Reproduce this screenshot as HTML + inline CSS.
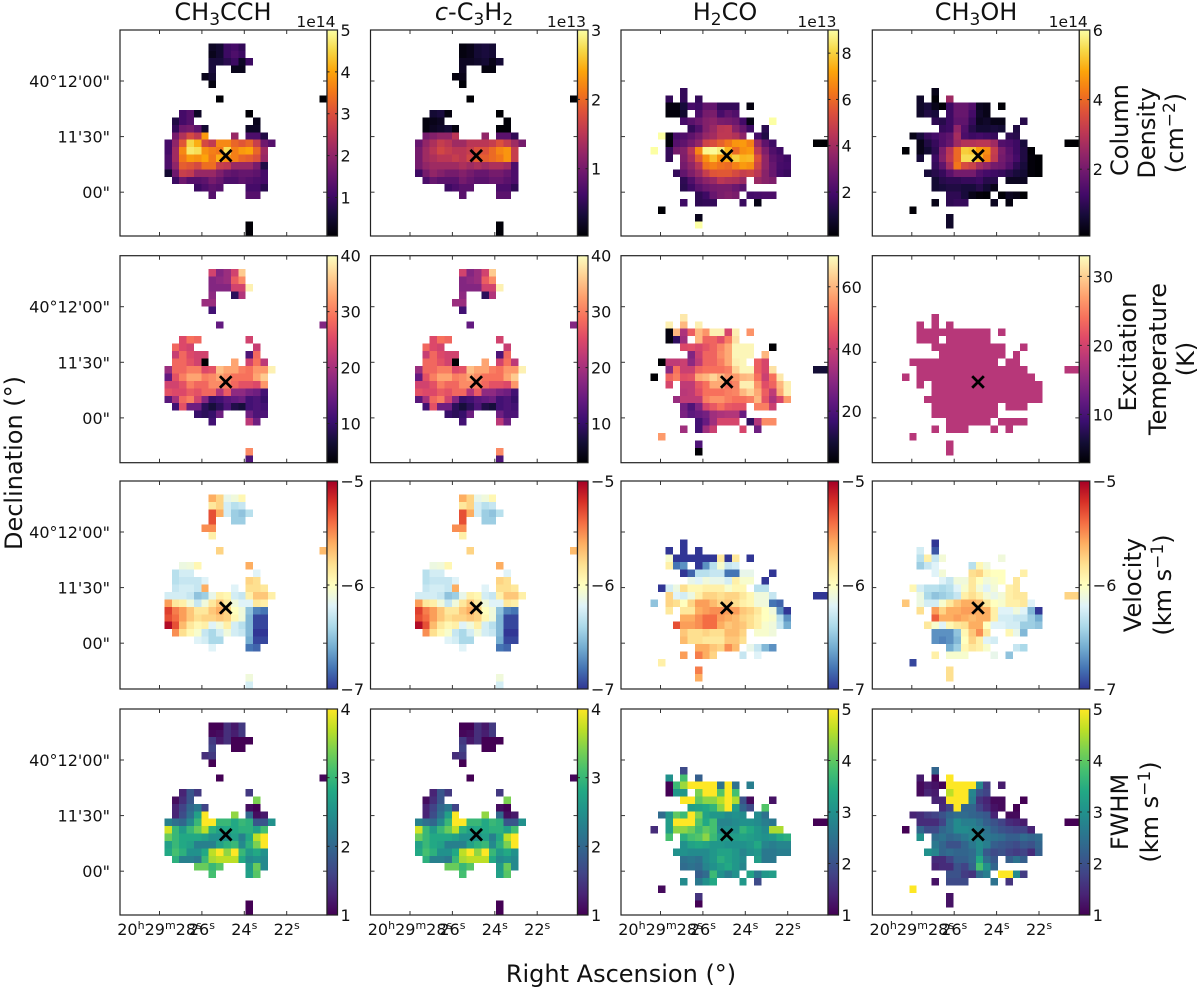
<!DOCTYPE html>
<html lang="en">
<head>
<meta charset="utf-8">
<title>Molecular line maps</title>
<style>
html,body{margin:0;padding:0;background:#fff;}
svg{display:block;filter:blur(0.35px);}
text{font-family:"DejaVu Sans","Liberation Sans",sans-serif;fill:#111;}
</style>
</head>
<body>
<svg id="fig" xmlns="http://www.w3.org/2000/svg" width="1200" height="990" viewBox="0 0 1200 990">
<rect width="1200" height="990" fill="#fff"/>
<g font-size="24" text-anchor="middle">
<text x="223" y="20">CH<tspan font-size="17" dy="5">3</tspan><tspan dy="-5">CCH</tspan></text>
<text x="474" y="20"><tspan font-style="italic">c</tspan>-C<tspan font-size="17" dy="5">3</tspan><tspan dy="-5">H</tspan><tspan font-size="17" dy="5">2</tspan></text>
<text x="725" y="20">H<tspan font-size="17" dy="5">2</tspan><tspan dy="-5">CO</tspan></text>
<text x="976" y="20">CH<tspan font-size="17" dy="5">3</tspan><tspan dy="-5">OH</tspan></text>
<text x="621" y="982">Right Ascension (°)</text>
<text transform="translate(22,463) rotate(-90)">Declination (°)</text>
<text transform="translate(1128,130) rotate(-90)">Column</text>
<text transform="translate(1155,133) rotate(-90)">Density</text>
<text transform="translate(1183,133) rotate(-90)">(cm<tspan font-size="17" dy="-8">−2</tspan><tspan dy="8">)</tspan></text>
<text transform="translate(1136,352) rotate(-90)">Excitation</text>
<text transform="translate(1166,359) rotate(-90)">Temperature</text>
<text transform="translate(1194,359) rotate(-90)">(K)</text>
<text transform="translate(1141,585) rotate(-90)">Velocity</text>
<text transform="translate(1171,585) rotate(-90)">(km s<tspan font-size="17" dy="-8">−1</tspan><tspan dy="8">)</tspan></text>
<text transform="translate(1128,812) rotate(-90)">FWHM</text>
<text transform="translate(1158,812) rotate(-90)">(km s<tspan font-size="17" dy="-8">−1</tspan><tspan dy="8">)</tspan></text>
</g>
</svg>
<script>
// ---- Heatmap values: rows of 28 columns; holes are blank pixels ----
const columnDensityCh3cch = [
[],[],
[,,,,,,,,,,,,.4,.5,1,1.1,.9],
[,,,,,,,,,,,,.3,.5,1,1.2,1],
[,,,,,,,,,,,,.6,.6,.8,1,.4,1],
[,,,,,,,,,,,,.6,,,.3,.3],
[,,,,,,,,,,,.3,.5],
[,,,,,,,,,,,,.2],
[],
[,,,,,,,,,,,,,.05,,,,,,,,,,,,,,.05],
[],
[,,,,,,,,1.1,1.3,.4,,,,,,,.1],
[,,,,,,,.7,1.1,1.3,,,,,,,,,.3],
[,,,,,,,.9,1.6,1.7,1.4,.5,,,,,,.4,.4],
[,,,,,,,1.7,2.4,2.9,2.6,3.9,,,,2.1,,1.2,1.2,.7],
[,,,,,,1.1,2,3.1,4.5,4.1,2.9,2.6,3.7,3.7,3.3,3.1,3.3,2.7,1.6,1.3],
[,,,,,,1.1,2.2,3.7,4.7,4.6,3.8,3.6,3.5,4.6,3.6,3.9,4,3.3,2.2],
[,,,,,,1.2,2.2,3.5,3.9,3.8,4,3.5,4.1,3.8,3.6,3.3,3.2,3,2.1],
[,,,,,,1.2,2,3.2,3.1,2.9,3.4,3.4,2.7,2.6,2.1,2.1,2.1,1.7,.7],
[,,,,,,.5,1.6,2.7,2.6,2.1,2.1,2.1,1.8,1.5,1.4,1.5,1.5,1.4,1.1],
[,,,,,,,1,1.6,1.3,1.3,1.4,1.7,1.5,1.2,1.2,1.4,1.3,1.2,1.1],
[,,,,,,,,,,1,1.2,1.4,1.3,,,,1.1,1.1,.8],
[,,,,,,,,,,,,1.3,,,,,1.3,1.3],
[],[],[],
[,,,,,,,,,,,,,,,,,.1],
[,,,,,,,,,,,,,,,,,.1]
];
const columnDensityC3h2 = [
[],[],
[,,,,,,,,,,,,.1,.15,.3,.35,.3],
[,,,,,,,,,,,,.1,.15,.3,.35,.3],
[,,,,,,,,,,,,.2,.2,.25,.3,.15,.3],
[,,,,,,,,,,,,.2,,,.1,.1],
[,,,,,,,,,,,.1,.15],
[,,,,,,,,,,,,.05],
[],
[,,,,,,,,,,,,,.03,,,,,,,,,,,,,,.03],
[],
[,,,,,,,,.3,.35,.1,,,,,,,.03],
[,,,,,,,.1,.15,.2,,,,,,,,,.05],
[,,,,,,,.1,.2,.25,.3,.1,,,,,,.05,.05],
[,,,,,,,1,1.1,1.2,1.2,1.5,,,,1.2,,.8,.8,.5],
[,,,,,,.9,1.2,1.4,1.6,1.5,1.3,1.3,1.5,1.5,1.5,1.6,1.8,1.6,1.3,1],
[,,,,,,1,1.3,1.5,1.7,1.6,1.5,1.5,1.6,1.8,1.8,2,2.2,2.3,1.6],
[,,,,,,1,1.3,1.4,1.5,1.5,1.6,1.5,1.7,1.9,1.9,2,2.1,2.3,1.6],
[,,,,,,1,1.2,1.3,1.3,1.3,1.3,1.4,1.3,1.4,1.3,1.4,1.4,1.3,.7],
[,,,,,,.6,1,1.2,1.1,1,1,1.1,1,.9,.9,1,1,.9,.7],
[,,,,,,,.7,.9,.8,.8,.8,1,.9,.8,.8,.9,.9,.8,.7],
[,,,,,,,,,,.6,.7,.8,.8,,,,.7,.7,.5],
[,,,,,,,,,,,,.8,,,,,.8,.8],
[],[],[],
[,,,,,,,,,,,,,,,,,.05],
[,,,,,,,,,,,,,,,,,.05]
];
const columnDensityH2co = [
[],[],[],[],[],[],[],[],
[,,,,,,,,1.6],
[,,,,,,1.6,,1.6,,1.6],
[,,,,,,.3,.3,1,2,1.8,2.6,2.6,1.6,1.6,1.6,,.3],
[,,,,,,.2,.2,.8,,2.1,3,3.1,2,2.5,2.2],
[,,,,,,,,2,2.4,2.8,3.3,3.5,3.1,3,2.8,1.9,.4,,,9],
[,,,,,,,,,1.6,2.2,3.3,3.8,4.5,4.6,3.4,2.7,1.8,,1.4],
[,,,,,9,.3,2,2.2,2.5,3,3.7,4,4.6,4.6,4.3,3.5,,1.9,1.2],
[,,,,,,.2,2.3,2.5,3,3.6,5,5.3,5.8,6.3,6.9,7,6.5,3.8,2.5,1.8,,,,,,.1,.1],
[,,,,9,,1.6,3,3.3,4.5,6.6,8.8,8.9,8.6,7.5,6,6.8,7,4.6,3.2,2.2,1.8],
[,,,,,,1.6,,3.2,4.1,5.6,6.8,7.7,6.8,7.4,8,7.5,7.6,5.4,3.6,2.5,2.1,1.8],
[,,,,,,,,3,3.6,4.5,6.2,6.5,6.2,6,6.5,7,6.8,5,3.6,2.7,2,1.9],
[,,,,,,,1.6,2.6,3.2,3.8,4.8,5.5,5.6,5.6,5.2,4.8,5,4.5,3.4,2.7,1.9,1.7],
[,,,,,,,,1.5,2.2,3,3.5,3.8,4.5,4.3,4.2,3.8,,3.8,3.4,3.2],
[,,,,,,,,1.4,1.8,2.4,2.8,3,3.1,3.1,2.8,2.4],
[,,,,,,,,,,1.5,1.8,2.7,3.1,3.3,3.1,,1.9,2,2.1,2.1],
[,,,,,,,,1.8,,1.5,1.6,1.6,,,,1.7,,.4],
[,,,,,.1],
[,,,,,,,,,,.5],
[,,,,,,,,,,9]
];
const columnDensityCh3oh = [
[],[],[],[],[],[],[],[],
[,,,,,,,,.3],
[,,,,,,.5,,.1,,2.6],
[,,,,,,.5,.7,.3,.1,1.2,1.8,1.8,1.5,.4,.3,,.1],
[,,,,,,.5,.8,.7,,1.2,1.8,1.8,1.3,.5,.3],
[,,,,,,,,1,.9,1.2,1.7,1.7,1.1,.4,.5,.3,.3,,,.9],
[,,,,,,,,,1.1,1.2,2.4,1.5,.9,.6,.6,.7,.6,,.8],
[,,,,,.3,.7,1.1,1.3,1.5,1.7,2.7,1.4,1.2,1.3,1.2,1.1,,1,.9],
[,,,,,,.3,.8,1.1,1.5,1.8,2.6,2.9,2.9,3,3,2.6,1.5,1.4,1.2,.7,,,,,,.05,.05],
[,,,,.05,,.3,.6,1,2.1,3,4,5.3,5.2,4.7,4.5,3.2,2.1,1.6,1.2,.8,.1],
[,,,,,,.7,,1.2,2.2,3.1,4,5.5,5.5,5,4.3,3.1,2,1.7,1.3,.8,.15,.05],
[,,,,,,,,1.1,1.7,2.7,4.2,3.5,3.3,2.7,2.4,2,1.9,1.5,1,.7,.15,.05],
[,,,,,,,.7,.9,1.1,1.6,2,2,2,1.5,1.3,1.2,1.1,.9,.7,.6,.15,.05],
[,,,,,,,,.6,.9,1,1,1.1,1.1,1.2,.9,.9,,.4,.4,.4],
[,,,,,,,,.6,.7,.8,.8,.7,.7,.9,.6,.3],
[,,,,,,,,,,1,1,.7,.3,.15,.1,,.1,.4,.3,.05],
[,,,,,,,,.3,,1,1.1,1.1,,,,.4,,.2],
[,,,,,.1],
[,,,,,,,,,,.5],
[,,,,,,,,,,.5]
];
const excitationCh3cch = [
[],[],
[,,,,,,,,,,,,24,17,19,24,36],
[,,,,,,,,,,,,17,18,19,27,31],
[,,,,,,,,,,,,17,17,17,24,24,39],
[,,,,,,,,,,,,18,,,9,21],
[,,,,,,,,,,,19,19],
[,,,,,,,,,,,,11],
[],
[,,,,,,,,,,,,,14,,,,,,,,,,,,,,17],
[],
[,,,,,,,,25,29,28,,,,,,,24],
[,,,,,,,28,25,24,,,,,,,,,23],
[,,,,,,,23,28,25,24,24,,,,,,12,28],
[,,,,,,,28,28,26,24,3,,,,33,,24,29,22],
[,,,,,,19,28,28,30,30,25,26,35,33,33,30,29,32,32,39],
[,,,,,,14,26,30,33,33,30,31,33,31,29,29,29,33,36],
[,,,,,,24,24,26,30,28,28,31,31,30,28,26,26,25,32],
[,,,,,,26,25,25,27,26,28,28,21,27,18,18,16,15,11],
[,,,,,,13,20,28,30,24,17,10,11,13,14,15,11,12,10],
[,,,,,,,11,26,15,15,9,7,9,12,8,7,11,12,11],
[,,,,,,,,,,10,9,10,15,,,,15,12,12],
[,,,,,,,,,,,,11,,,,,22,15],
[],[],[],
[,,,,,,,,,,,,,,,,,31],
[,,,,,,,,,,,,,,,,,12]
];
const excitationH2co = [
[],[],[],[],[],[],[],[],
[,,,,,,,,67],
[,,,,,,68,,60,,68],
[,,,,,,5,60,35,47,60,55,68,68,42,68,,55],
[,,,,,,5,15,33,,60,48,48,44,52,66],
[,,,,,,,,43,44,42,45,48,53,58,69,69,69,,,3],
[,,,,,,,,,28,40,48,48,54,58,69,69,69,,60],
[,,,,,3,38,38,40,30,38,48,48,52,58,68,69,,47,42],
[,,,,,,30,50,40,40,48,50,50,50,52,64,69,69,47,42,66,,,,,,10,10],
[,,,,3,,48,52,44,45,58,60,64,60,55,56,60,61,50,40,50,67],
[,,,,,,42,,38,38,46,50,58,58,50,53,68,68,55,44,48,60,68],
[,,,,,,,,37,38,44,50,50,50,52,53,60,64,58,47,38,58,68],
[,,,,,,,32,38,38,38,52,55,55,52,50,50,52,60,45,35,42,56],
[,,,,,,,,26,20,28,42,46,50,46,45,45,,52,52,40],
[,,,,,,,,27,22,24,26,33,35,36,36,24],
[,,,,,,,,,,18,24,33,42,42,42,,15,36,54,54],
[,,,,,,,,33,,18,33,40,,,,42,,25],
[,,,,,56],
[,,,,,,,,,,20],
[,,,,,,,,,,3]
];
const excitationCh3oh = [
[],[],[],[],[],[],[],[],
[,,,,,,,,18],
[,,,,,,18,,18,,18],
[,,,,,,18,18,18,18,18,18,18,18,18,18,,18],
[,,,,,,18,18,18,,18,18,18,18,18,18],
[,,,,,,,,18,18,18,18,18,18,18,18,18,18,,,18],
[,,,,,,,,,18,18,18,18,18,18,18,18,18,,18],
[,,,,,18,18,18,18,18,18,18,18,18,18,18,18,,18,18],
[,,,,,,18,18,18,18,18,18,18,18,18,18,18,18,18,18,18,,,,,,18,18],
[,,,,18,,18,18,18,18,18,18,18,18,18,18,18,18,18,18,18,18],
[,,,,,,18,,18,18,18,18,18,18,18,18,18,18,18,18,18,18,18],
[,,,,,,,,18,18,18,18,18,18,18,18,18,18,18,18,18,18,18],
[,,,,,,,18,18,18,18,18,18,18,18,18,18,18,18,18,18,18,18],
[,,,,,,,,18,18,18,18,18,18,18,18,18,,18,18,18],
[,,,,,,,,18,18,18,18,18,18,18,18,18],
[,,,,,,,,,,18,18,18,18,18,18,,18,18,18,18],
[,,,,,,,,18,,18,18,18,,,,18,,18],
[,,,,,18],
[,,,,,,,,,,18],
[,,,,,,,,,,18]
];
const velocityCh3cch = [
[],[],
[,,,,,,,,,,,,-5.6,-5.75,-6.15,-6.1,-5.95],
[,,,,,,,,,,,,-5.85,-5.75,-6.25,-6.35,-6.3],
[,,,,,,,,,,,,-5.3,-5.6,-6.25,-6.45,-6.5,-6.35],
[,,,,,,,,,,,,-5.3,,,-6.45,-6.45],
[,,,,,,,,,,,-5.5,-5.5],
[,,,,,,,,,,,,-5.9],
[],
[,,,,,,,,,,,,,-5.75,,,,,,,,,,,,,,-5.65],
[],
[,,,,,,,,-6.12,-6.1,-5.95,,,,,,,-5.6],
[,,,,,,,-6.35,-6.25,-6.25,,,,,,,,,-6.2],
[,,,,,,,-6.35,-6.3,-6.3,-6.3,-6.2,,,,,,-5.75,-5.8],
[,,,,,,,-6.3,-6.25,-6.25,-6.3,-5.6,,,,-6.2,,-5.8,-5.8,-5.85],
[,,,,,,-6.25,-6.25,-6.25,-6.3,-6.5,-6.45,-6.15,-5.9,-5.95,-6.25,-6.3,-5.9,-5.7,-5.7,-5.9],
[,,,,,,-5.55,-5.85,-5.9,-6.1,-6.3,-6.1,-5.85,-5.7,-5.85,-6.1,-6.2,-6.2,-5.85,-5.9],
[,,,,,,-5.25,-5.45,-5.55,-5.7,-5.85,-5.85,-5.7,-5.6,-5.75,-6,-6.1,-6.5,-6.75,-6.8],
[,,,,,,-5.3,-5.4,-5.55,-5.7,-5.8,-5.75,-5.75,-5.7,-5.75,-5.95,-6.1,-6.55,-6.95,-6.95],
[,,,,,,-5.05,-5.3,-5.65,-5.85,-5.95,-5.9,-6.2,-6.1,-5.9,-6.25,-6.35,-6.55,-6.95,-6.95],
[,,,,,,,-5.5,-5.8,-5.95,-6.05,-6.3,-6.4,-6.25,-6.1,-6.25,-6.3,-6.55,-7,-7],
[,,,,,,,,,,-6.2,-6.25,-6.4,-6.4,,,,-6.6,-6.95,-6.95],
[,,,,,,,,,,,,-6.2,,,,,-6.8,-6.85],
[],[],[],
[,,,,,,,,,,,,,,,,,-6.1],
[,,,,,,,,,,,,,,,,,-6.25]
];
const velocityH2co = [
[],[],[],[],[],[],[],[],
[,,,,,,,,-7],
[,,,,,,-7,,-7,,-7],
[,,,,,,-6.05,-7,-7,-7,-7,-7,-7,-5.85,-7,-5.85,,-7],
[,,,,,,-5.9,-6.8,-6.7,,-7,-6.7,-6.35,-6.05,-6.3,-6.25],
[,,,,,,,,-7,-6.85,-6.35,-6.35,-6.3,-6.3,-6.8,-6.8,-6.15,-6.15,,,-7],
[,,,,,,,,,-6.15,-6.2,-6.1,-6.15,-6.15,-6.25,-5.9,-6.05,-6.05,,-7],
[,,,,,-7,-6.25,-6.12,-5.8,-5.95,-5.95,-5.9,-5.9,-5.9,-6.05,-5.95,-5.95,,-6.35,-6.35],
[,,,,,,-5.75,-6.2,-6.25,-6.12,-5.9,-5.75,-5.75,-5.8,-5.75,-5.75,-5.85,-5.95,-6.1,-6.1,-6.3,,,,,,-7,-7],
[,,,,-6.5,,-5.75,-5.8,-6,-5.75,-5.55,-5.55,-5.65,-5.75,-5.7,-5.8,-5.9,-5.95,-6.1,-6.1,-6.8,-6.85],
[,,,,,,-5.85,,-5.85,-5.85,-5.6,-5.55,-5.5,-5.5,-5.55,-5.55,-5.7,-5.75,-5.85,-6,-6.1,-6.7,-7],
[,,,,,,,,-5.6,-5.6,-5.5,-5.4,-5.4,-5.55,-5.6,-5.65,-5.75,-5.8,-5.9,-6,-6.05,-6.35,-6.7],
[,,,,,,,-5.3,-5.55,-5.55,-5.5,-5.4,-5.4,-5.6,-5.7,-5.65,-5.7,-5.8,-5.9,-6.05,-6.1,-6.3,-6.6],
[,,,,,,,,-5.7,-5.8,-5.8,-5.75,-5.8,-5.8,-5.65,-5.65,-5.75,,-6.05,-6.05,-6.1],
[,,,,,,,,-5.65,-5.8,-5.8,-5.85,-5.85,-5.85,-5.7,-5.7,-5.8],
[,,,,,,,,,,-5.6,-5.6,-5.7,-5.75,-5.5,-5.65,,-6.15,-6.3,-6.55,-6.7],
[,,,,,,,,-5.55,,-5.45,-5.6,-5.75,,,,-6.3,,-6.2],
[,,,,,-5.9],
[,,,,,,,,,,-5.45],
[,,,,,,,,,,-5.6]
];
const velocityCh3oh = [
[],[],[],[],[],[],[],[],
[,,,,,,,,-7],
[,,,,,,-6.25,,-6.9],
[,,,,,,-6.35,-5.9,-6.3,-6.08,,,,,,,,-6.1],
[,,,,,,-6.45,-6.3,-6.2,,,,,-6.35,-5.95,-6.1],
[,,,,,,,,-6.2,-6.08,,,,-5.8,-5.75,-5.95,-6,-6,,,-5.9],
[,,,,,,,,,-6.2,-6.3,-6.1,-6.1,-5.85,-6,-6.1,-6.05,-6,,-5.85],
[,,,,,-5.95,-6.25,-6.35,-6.35,-6.4,-6.35,-6.2,-6.05,-5.85,-6.08,-6.2,-6.08,,-5.9,-5.85],
[,,,,,,-6.12,-6.4,-6.5,-6.45,-6.4,-6.3,-5.9,-5.8,-5.9,-6.08,-6.15,-6.08,-5.9,-5.85,-5.85,,,,,,-5.75,-5.75],
[,,,,-5.7,,-6.12,-6.25,-6.25,-6.05,-5.85,-5.7,-5.6,-5.6,-5.65,-5.85,-6,-6.05,-5.9,-5.9,-5.85,-6.2],
[,,,,,,-5.8,,-5.55,-5.75,-5.6,-5.6,-5.55,-5.55,-5.6,-5.6,-5.9,-6.2,-6.2,-6.1,-6.2,-6.55,-7],
[,,,,,,,,-5.35,-5.6,-5.6,-5.55,-5.6,-5.65,-5.6,-5.6,-5.9,-6.25,-6.25,-6.3,-6.3,-6.45,-6.6],
[,,,,,,,-5.85,-6.05,-6.2,-5.95,-5.85,-5.8,-5.6,-5.6,-6,-6.2,-6.2,-6.25,-6.25,-6.45,-6.45,-6.5],
[,,,,,,,,-6.7,-6.7,-6.7,-6.5,-5.95,-5.7,-5.5,-5.85,,,-5.95,-6.15,-6.55],
[,,,,,,,,-6.7,-6.75,-6.7,-6.55,-6,-5.75,-5.9,-6.2,-6.25],
[,,,,,,,,,,-6.6,-6.45,-5.95,-5.85,-5.9,-6.05,,,,-6.3,-6.4],
[,,,,,,,,-5.9,,-6.05,-6.05,-6.05,,,,-6.15,,-6.5],
[,,,,,-6.95],
[,,,,,,,,,,-5.8],
[,,,,,,,,,,-5.8]
];
const fwhmCh3cch = [
[],[],
[,,,,,,,,,,,,1,1,1.4,1.2,1.5],
[,,,,,,,,,,,,1.05,1.1,1.4,1.25,1.5],
[,,,,,,,,,,,,1.5,1.2,1.4,1,1,1],
[,,,,,,,,,,,,1.6,,,1,1],
[,,,,,,,,,,,1.4,1.5],
[,,,,,,,,,,,,1],
[],
[,,,,,,,,,,,,,1,,,,,,,,,,,,,,1.05],
[],
[,,,,,,,,1.3,1.8,1.5,,,,,,,1.5],
[,,,,,,,1.1,1.4,1.8,,,,,,,,,3.4],
[,,,,,,,1.3,1.6,2,2.2,1.6,,,,,,1.1,1],
[,,,,,,,1.3,1.7,2.1,2.7,4,,,,3.5,,2,1.1,1.2],
[,,,,,,2.3,2.1,2,2.4,3,4,4,3,3,2.8,3,2.9,1.8,1.8,2.5],
[,,,,,,3.8,3,2.6,3,3.3,3.7,2.9,2.7,2.8,2.8,2.9,2.9,2.7,3.1],
[,,,,,,3.3,3,2.8,2.8,2.8,2.7,2.5,2.5,2.5,2.7,2.3,2.8,3.7,4],
[,,,,,,2.7,3,2.8,2.7,2.3,2.3,2.3,2.7,2.9,3,2.4,2.9,3.4,4],
[,,,,,,2.8,3.1,2.9,2.5,2.5,2.8,3.7,4,3.5,4,3,2.6,2.8,2.5],
[,,,,,,,2.9,2.3,2.3,2.2,3,3.6,3.7,3.7,3.7,2.8,2.4,2.5,2.4],
[,,,,,,,,,,3.3,3.3,3,3.2,,,,2.6,3.3,2.4],
[,,,,,,,,,,,,3.1,,,,,2.7,3.2],
[],[],[],
[,,,,,,,,,,,,,,,,,1],
[,,,,,,,,,,,,,,,,,1]
];
const fwhmH2co = [
[],[],[],[],[],[],[],[],
[,,,,,,,,1.9],
[,,,,,,3,,3.8,,2.2],
[,,,,,,1,3.7,4.4,5,5,5,5,2.5,5,2.5,,2.7],
[,,,,,,1,3.1,3.1,,4.2,5,5,3.9,5,3.8],
[,,,,,,,,5,5,4,4.3,4.3,4.6,5,4.5,2,1.1,,,1.2],
[,,,,,,,,,3.2,3.3,3.4,3.6,4.3,5,3.2,2.3,1.9,,3.9],
[,,,,,2.4,3.1,4,3.7,5,4.2,3.3,3.1,3.1,2.9,3,2.9,,2.9,2.5],
[,,,,,,3.2,5,5,5,3.9,3.4,3.8,2.8,2.8,2.9,3,3,2.9,2.7,2.6,,,,,,1,1],
[,,,,1.5,,3.2,4.3,4.3,4.1,3.7,4,3.8,2.9,3,3,3.6,3.4,3.1,2.9,4.5,4.5],
[,,,,,,3.8,,3.5,3.8,3.9,4.3,3.7,3.2,3.2,3.2,3.3,3.2,3.1,3,3.1,3.4,3.5],
[,,,,,,,,3,3.3,3.4,3.3,3.1,3.1,3,3,3,3.1,3.4,2.8,2.7,2.8,2.8],
[,,,,,,,3,3,2.9,2.9,2.9,3.1,3.3,3.3,3.1,2.8,3,3.1,2.6,2.6,2.7,2.7],
[,,,,,,,,2.5,2.6,2.5,2.9,3.1,3.5,3.3,3.1,2.9,,3.2,2.6,2.6],
[,,,,,,,,2.4,2.5,2.4,2.8,3,3.2,3.4,3.1,2.8],
[,,,,,,,,,,2.2,2.4,3.7,3,2.7,3,,3.3,2.6,3.1,3.2],
[,,,,,,,,2.9,,2.6,3,3.4,,,,3.1,,1.9],
[,,,,,1.1],
[,,,,,,,,,,1.6],
[,,,,,,,,,,1]
];
const fwhmCh3oh = [
[],[],[],[],[],[],[],[],
[,,,,,,,,2.3],
[,,,,,,1.3,,1,,5],
[,,,,,,1.1,1.3,1.2,1,5,5,5,5,2.8,1.7,,1.3],
[,,,,,,1.1,1.4,1.3,,4.6,5,5,2.8,2,1.8],
[,,,,,,,,1.4,1.4,5,5,5,2.7,1.6,1.4,1.1,1.1,,,1],
[,,,,,,,,,1.5,1.8,5,2.3,2.3,1.8,1.5,1.2,1.1,,1],
[,,,,,1.4,1.5,1.7,1.8,2,2.3,2.4,2.4,2.3,2.2,2.1,1.4,,1.1,1.1],
[,,,,,,1.5,1.5,1.5,1.8,2.5,2.9,2.7,2.7,2.5,2.2,2,1.8,1.5,1.4,1.3,,,,,,1,1],
[,,,,1,,2.3,1.9,1.9,2.3,2.5,2.9,2.9,2.8,2.7,2.5,2.2,2,1.9,1.8,1.8,1.4],
[,,,,,,3,,2.4,2.5,2.3,2.4,2.6,2.8,2.8,2.6,2.5,2.4,2.2,2.2,2.4,2.3,2.4],
[,,,,,,,,2.6,2.3,2,2,2.3,2.6,2.9,2.7,2.2,2.1,2,1.9,2.1,2,2.3],
[,,,,,,,3,2.8,2.3,2.4,2.3,2.3,2.4,2.9,2.1,1.9,2,1.8,1.7,1.8,1.5,2.2],
[,,,,,,,,1.5,1.5,1.8,2.2,2.2,2.4,3.4,2.4,2.1,,2.2,2.5,2.2],
[,,,,,,,,1.4,1.5,1.5,2,1.8,2.3,3.8,3,2.3],
[,,,,,,,,,,2,2,1.7,1.6,2.4,2.7,,5,5,2.9,1.7],
[,,,,,,,,1.2,,1.9,1.9,1.9,,,,2.5,,1.6],
[,,,,,5],
[,,,,,,,,,,1.2],
[,,,,,,,,,,1.2]
];

// ---- Axis tick values and labels ----
const raTickSeconds = [28, 26, 24, 22];
const raTickLabels = ['20<tspan dy="-6" font-size="11">h</tspan><tspan dy="6">29</tspan><tspan dy="-6" font-size="11">m</tspan><tspan dy="6">28</tspan><tspan dy="-6" font-size="11">s</tspan>', '26<tspan dy="-6" font-size="11">s</tspan>', '24<tspan dy="-6" font-size="11">s</tspan>', '22<tspan dy="-6" font-size="11">s</tspan>'];
const decTickArcsec = [0, 30, 60];
const decTickLabels = ['40°12\'00"', '11\'30"', '00"'];
const sourcePosition = [14.3, 17.15];

// ---- Colour maps (anchor colours) ----
const inferno = ['#000004','#160b39','#420a68','#6a176e','#932667','#bc3754','#dd513a','#f37819','#fca50a','#f6d746','#fcffa4'];
const magma = ['#000004','#140e36','#3b0f70','#641a80','#8c2981','#b73779','#de4968','#f7705c','#fe9f6d','#fecf92','#fcfdbf'];
const rdylbuR = ['#313695','#4575b4','#74add1','#abd9e9','#e0f3f8','#ffffbf','#fee090','#fdae61','#f46d43','#d73027','#a50026'];
const viridis = ['#440154','#482475','#414487','#355f8d','#2a788e','#21918c','#22a884','#44bf70','#7ad151','#bddf26','#fde725'];

// ---- Panel definitions ----
const panels = [
{row:0,col:0,data:columnDensityCh3cch,cmap:inferno,min:.08,max:5,ticks:[1,2,3,4,5],offset:'1e14'},
{row:0,col:1,data:columnDensityC3h2,cmap:inferno,min:.03,max:3,ticks:[1,2,3],offset:'1e13'},
{row:0,col:2,data:columnDensityH2co,cmap:inferno,min:.1,max:9,ticks:[2,4,6,8],offset:'1e13'},
{row:0,col:3,data:columnDensityCh3oh,cmap:inferno,min:.08,max:6,ticks:[2,4,6],offset:'1e14'},
{row:1,col:0,data:excitationCh3cch,cmap:magma,min:3,max:40,ticks:[10,20,30,40]},
{row:1,col:1,data:excitationCh3cch,cmap:magma,min:3,max:40,ticks:[10,20,30,40]},
{row:1,col:2,data:excitationH2co,cmap:magma,min:3.4,max:70,ticks:[20,40,60]},
{row:1,col:3,data:excitationCh3oh,cmap:magma,min:3,max:33,ticks:[10,20,30]},
{row:2,col:0,data:velocityCh3cch,cmap:rdylbuR,min:-7,max:-5,ticks:[-7,-6,-5]},
{row:2,col:1,data:velocityCh3cch,cmap:rdylbuR,min:-7,max:-5,ticks:[-7,-6,-5]},
{row:2,col:2,data:velocityH2co,cmap:rdylbuR,min:-7,max:-5,ticks:[-7,-6,-5]},
{row:2,col:3,data:velocityCh3oh,cmap:rdylbuR,min:-7,max:-5,ticks:[-7,-6,-5]},
{row:3,col:0,data:fwhmCh3cch,cmap:viridis,min:1,max:4,ticks:[1,2,3,4]},
{row:3,col:1,data:fwhmCh3cch,cmap:viridis,min:1,max:4,ticks:[1,2,3,4]},
{row:3,col:2,data:fwhmH2co,cmap:viridis,min:1,max:5,ticks:[1,2,3,4,5]},
{row:3,col:3,data:fwhmCh3oh,cmap:viridis,min:1,max:5,ticks:[1,2,3,4,5]}
];

// ---- Layout ----
const colLeft = [120, 370.5, 621, 872.3];
const rowTop = [30, 255.7, 481, 709];
const rowHeight = [206, 207, 208, 206];
const imgW = 207, cbW = 10.5, GRID = 28;

const NS = 'http://www.w3.org/2000/svg';
const svg = document.getElementById('fig');
function mk(tag, attrs, parent) {
  const el = document.createElementNS(NS, tag);
  for (const k in attrs) el.setAttribute(k, attrs[k]);
  parent.appendChild(el);
  return el;
}
function hexToRgb(h) { return [1,3,5].map(i => parseInt(h.substr(i,2),16)); }
function colorAt(cmap, t) {
  t = Math.max(0, Math.min(1, t)) * (cmap.length - 1);
  const i = Math.min(Math.floor(t), cmap.length - 2), f = t - i;
  const a = hexToRgb(cmap[i]), b = hexToRgb(cmap[i+1]);
  return 'rgb(' + a.map((v,k) => Math.round(v + (b[k]-v)*f)).join(',') + ')';
}
const defs = mk('defs', {}, svg);
function gradientFor(cmap, id) {
  const g = mk('linearGradient', {id:id, x1:0, y1:1, x2:0, y2:0}, defs);
  cmap.forEach((c,i) => mk('stop', {offset:i/(cmap.length-1), 'stop-color':c}, g));
}
gradientFor(inferno,'g-inferno'); gradientFor(magma,'g-magma'); gradientFor(rdylbuR,'g-rdylbu'); gradientFor(viridis,'g-viridis');
function gradId(cmap){ return cmap===inferno?'g-inferno':cmap===magma?'g-magma':cmap===rdylbuR?'g-rdylbu':'g-viridis'; }

panels.forEach(p => {
  const x0 = colLeft[p.col], y0 = rowTop[p.row], h = rowHeight[p.row];
  const cellW = imgW / GRID, cellH = h / 27.8;
  const xCell = c => x0 + c * cellW;
  const yCell = r => y0 + (r - 0.19) * cellH;
  const xRa = s => x0 + 39.5 + (28 - s) * 21.2;
  const yDec = a => y0 + 51 + a * 1.853;
  const yBar = v => y0 + h - (v - p.min) / (p.max - p.min) * h;
  const xBarEnd = x0 + imgW + cbW;

  const group = mk('g', {}, svg);
  
  

  // heatmap cells
  const cells = mk('g', {'shape-rendering':'crispEdges'}, group);
  
  
  p.data.forEach((rowVals, r) => {
    rowVals.forEach((v, c) => {
      if (v === undefined || v === null) return;
      const top = Math.max(yCell(r), y0);
      const bottom = Math.min(yCell(r + 1), y0 + h);
      const cell = mk('rect', {x:xCell(c), y:top, width:cellW, height:bottom-top, fill:colorAt(p.cmap, (v-p.min)/(p.max-p.min))}, cells);
      
      
    });
  });

  // frame
  const frame = mk('rect', {x:x0, y:y0, width:imgW, height:h, fill:'none', stroke:'#222', 'stroke-width':1.2}, group);
  
  

  // x ticks
  raTickSeconds.forEach((s, i) => {
    const x = xRa(s);
    const t1 = mk('line', {x1:x, x2:x, y1:y0, y2:y0+4, stroke:'#333', 'stroke-width':1}, group);
    
    
    const t2 = mk('line', {x1:x, x2:x, y1:y0+h, y2:y0+h-4, stroke:'#333', 'stroke-width':1}, group);
    
    
    if (p.row === 3) {
      const lab = mk('text', {x:x, y:y0+h+20, 'text-anchor':'middle', 'font-size':16}, group);
      lab.innerHTML = raTickLabels[i];
      
      
    }
  });
  // y ticks
  decTickArcsec.forEach((a, i) => {
    const y = yDec(a);
    const t1 = mk('line', {x1:x0, x2:x0+4, y1:y, y2:y, stroke:'#333', 'stroke-width':1}, group);
    
    
    const t2 = mk('line', {x1:x0+imgW, x2:x0+imgW-4, y1:y, y2:y, stroke:'#333', 'stroke-width':1}, group);
    
    
    if (p.col === 0) {
      const lab = mk('text', {x:x0-10, y:y+6, 'text-anchor':'end', 'font-size':16}, group);
      lab.textContent = decTickLabels[i];
      
      
    }
  });

  // marker
  const mx = xCell(sourcePosition[0]), my = yCell(sourcePosition[1]);
  const marker = mk('path', {d:`M${mx-5.8} ${my-5.8}L${mx+5.8} ${my+5.8}M${mx-5.8} ${my+5.8}L${mx+5.8} ${my-5.8}`, stroke:'#000', 'stroke-width':2.8, fill:'none'}, group);
  
  

  // colorbar
  const bar = mk('rect', {x:x0+imgW, y:y0, width:cbW, height:h, fill:'url(#'+gradId(p.cmap)+')', stroke:'#222', 'stroke-width':1.2}, group);
  
  
  p.ticks.forEach(v => {
    const y = yBar(v);
    const t1 = mk('line', {x1:x0+imgW, x2:x0+imgW+2.5, y1:y, y2:y, stroke:'#222', 'stroke-width':1}, group);
    
    
    const t2 = mk('line', {x1:xBarEnd, x2:xBarEnd-2.5, y1:y, y2:y, stroke:'#222', 'stroke-width':1}, group);
    
    
    const lab = mk('text', {x:xBarEnd+3, y:y+6, 'font-size':16}, group);
    lab.textContent = String(v).replace('-', '−');
    
    
  });
  if (p.offset) {
    const off = mk('text', {x:xBarEnd-2, y:y0-3, 'text-anchor':'end', 'font-size':15.5}, group);
    off.textContent = p.offset;
    
    
  }
});
</script>
</body>
</html>
